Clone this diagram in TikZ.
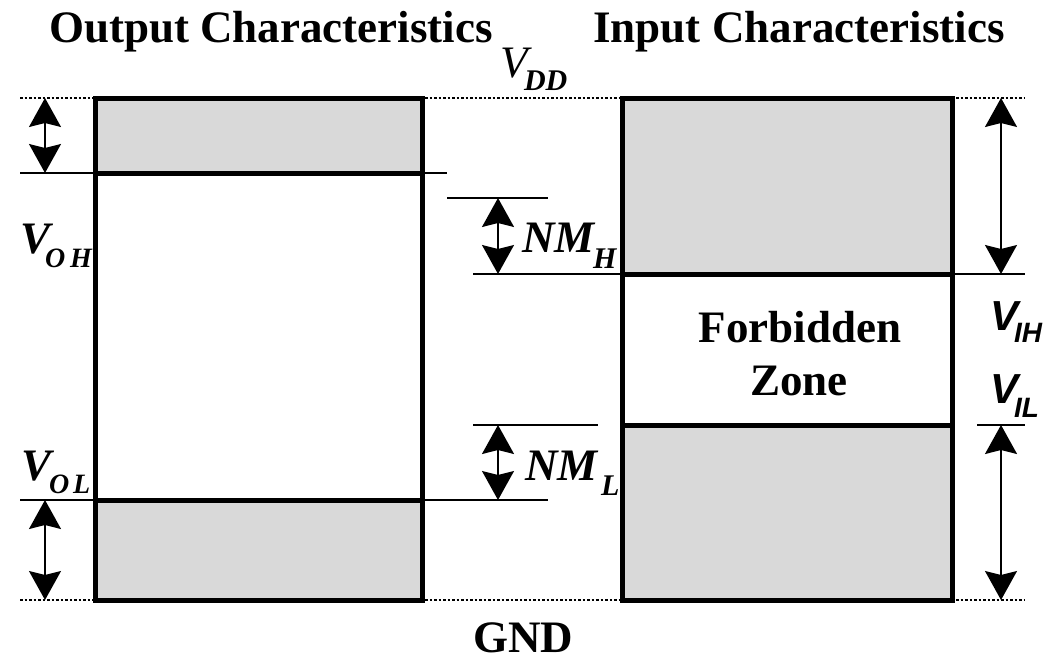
\documentclass[tikz,border=0pt]{standalone}
\usepackage{fontspec}
\setmainfont{Liberation Serif}
\setsansfont{Liberation Sans}
\usetikzlibrary{arrows.meta}
\definecolor{zonegray}{HTML}{D9D9D9}
\newcommand\fsbig{\fontsize{45}{54}\selectfont}
\newcommand\fssub{\fontsize{28}{34}\selectfont}
\newcommand\fssubb{\fontsize{30}{36}\selectfont}
\begin{document}
\begin{tikzpicture}[x=1pt,y=-1pt,
  thinline/.style={line width=1.5pt},
  dotline/.style={line width=1.5pt, dash pattern=on 2.5pt off 2pt},
  region/.style={draw, line width=5pt, inner sep=0pt, outer sep=0pt, line join=miter},
  dim/.style={line width=1.5pt, {Stealth[length=29pt,width=32pt,inset=4pt]}-{Stealth[length=29pt,width=32pt,inset=4pt]}},
  lbl/.style={inner sep=0pt, outer sep=0pt, anchor=base west},
  ttl/.style={inner sep=0pt, outer sep=0pt, anchor=base}
]
\useasboundingbox (0,0) rectangle (1048,661);

% dotted reference lines
\coordinate (dtl) at (20,98);
\coordinate (dtr) at (1025,98);
\coordinate (dbl) at (20,600);
\coordinate (dbr) at (1025,600);
\draw[dotline] (dtl) -- (dtr);
\draw[dotline] (dbl) -- (dbr);

% thin level lines
\coordinate (l1a) at (20,173);   \coordinate (l1b) at (447,173);
\coordinate (l2a) at (20,500);   \coordinate (l2b) at (548,500);
\coordinate (l3a) at (447,198);  \coordinate (l3b) at (548,198);
\coordinate (l4a) at (473,274);  \coordinate (l4b) at (1025,274);
\coordinate (l5a) at (473,425);  \coordinate (l5b) at (598,425);
\coordinate (l6a) at (977,425);  \coordinate (l6b) at (1025,425);
\draw[thinline] (l1a) -- (l1b);
\draw[thinline] (l2a) -- (l2b);
\draw[thinline] (l3a) -- (l3b);
\draw[thinline] (l4a) -- (l4b);
\draw[thinline] (l5a) -- (l5b);
\draw[thinline] (l6a) -- (l6b);

% output characteristics box
\node[region, fill=zonegray, minimum width=327pt, minimum height=75pt] (otop) at (258.5,135.5) {};
\node[region, fill=white, minimum width=327pt, minimum height=327pt] (omid) at (258.5,336.5) {};
\node[region, fill=zonegray, minimum width=327pt, minimum height=100pt] (obot) at (258.5,550) {};

% input characteristics box
\node[region, fill=zonegray, minimum width=330pt, minimum height=176pt] (itop) at (787,186) {};
\node[region, fill=white, minimum width=330pt, minimum height=151pt] (imid) at (787,349.5) {};
\node[region, fill=zonegray, minimum width=330pt, minimum height=175pt] (ibot) at (787,512.5) {};

% dimension arrows
\coordinate (a1t) at (45,98);    \coordinate (a1b) at (45,173);
\coordinate (a2t) at (45,500);   \coordinate (a2b) at (45,600);
\coordinate (a3t) at (498,198);  \coordinate (a3b) at (498,274);
\coordinate (a4t) at (498,425);  \coordinate (a4b) at (498,500);
\coordinate (a5t) at (1001,98);  \coordinate (a5b) at (1001,274);
\coordinate (a6t) at (1001,425); \coordinate (a6b) at (1001,600);
\draw[dim] (a1t) -- (a1b);
\draw[dim] (a2t) -- (a2b);
\draw[dim] (a3t) -- (a3b);
\draw[dim] (a4t) -- (a4b);
\draw[dim] (a5t) -- (a5b);
\draw[dim] (a6t) -- (a6b);

% titles
\node[ttl] (t1) at (271,43) {\fsbig\bfseries Output Characteristics};
\node[ttl] (t2) at (799,43) {\fsbig\bfseries Input Characteristics};

% V_DD
\node[lbl] (vdd) at (500,77) {\fsbig\itshape V};
\node[lbl] (vdds) at (524,90) {\fssubb\bfseries\itshape DD};

% V_OH, V_OL
\node[lbl] (voh) at (20,253) {\fsbig\bfseries\itshape V};
\node[lbl] (vohs) at (45,267) {\fssub\bfseries\itshape O\hspace{5pt}H};
\node[lbl] (vol) at (21,480) {\fsbig\bfseries\itshape V};
\node[lbl] (vols) at (49,493) {\fssub\bfseries\itshape O\hspace{4pt}L};

% NM_H, NM_L
\node[lbl] (nmh) at (522,252) {\fsbig\bfseries\itshape NM};
\node[lbl] (nmhs) at (593,268) {\fssubb\bfseries\itshape H};
\node[lbl] (nml) at (525,480) {\fsbig\bfseries\itshape NM};
\node[lbl] (nmls) at (601,495) {\fssubb\bfseries\itshape L};

% V_IH, V_IL
\node[lbl] (vih) at (990,330) {\fontsize{42}{50}\selectfont\sffamily\bfseries\itshape V};
\node[lbl] (vihs) at (1014,342) {\fssub\sffamily\bfseries\itshape IH};
\node[lbl] (vil) at (990,403) {\fontsize{42}{50}\selectfont\sffamily\bfseries\itshape V};
\node[lbl] (vils) at (1014,417) {\fssub\sffamily\bfseries\itshape IL};

% forbidden zone
\node[ttl] (fz1) at (800,342) {\fsbig\bfseries Forbidden};
\node[ttl] (fz2) at (799,395) {\fsbig\bfseries Zone};

% GND
\node[ttl] (gnd) at (523,652) {\fsbig\bfseries GND};
\end{tikzpicture}
\end{document}
